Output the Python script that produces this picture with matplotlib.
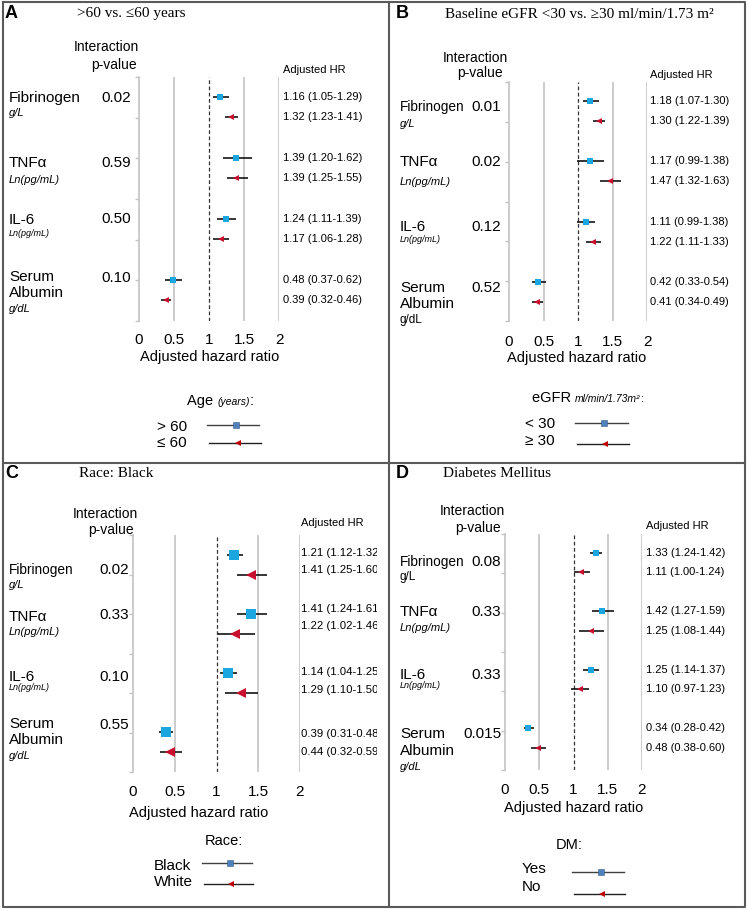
import matplotlib
matplotlib.use("Agg")
import matplotlib.pyplot as plt
from matplotlib import transforms

plt.rcParams['font.family'] = ['Liberation Sans', 'DejaVu Sans']

# ---------------- data ----------------
categories = ["Fibrinogen", "TNFα", "IL-6", "Serum Albumin"]

# Panel A: age
a_title = ">60 vs. ≤60 years"
a_p = ["0.02", "0.59", "0.50", "0.10"]
a_s1_hr = [1.16, 1.39, 1.24, 0.48]
a_s1_lo = [1.05, 1.20, 1.11, 0.37]
a_s1_up = [1.29, 1.62, 1.39, 0.62]
a_s2_hr = [1.32, 1.39, 1.17, 0.39]
a_s2_lo = [1.23, 1.25, 1.06, 0.32]
a_s2_up = [1.41, 1.55, 1.28, 0.46]
a_legend = ["> 60", "≤ 60"]

# Panel B: eGFR
b_title = "Baseline eGFR <30 vs. ≥30 ml/min/1.73 m²"
b_p = ["0.01", "0.02", "0.12", "0.52"]
b_s1_hr = [1.18, 1.17, 1.11, 0.42]
b_s1_lo = [1.07, 0.99, 0.99, 0.33]
b_s1_up = [1.30, 1.38, 1.24, 0.54]
b_s1_up_text = [1.30, 1.38, 1.38, 0.54]
b_s2_hr = [1.30, 1.47, 1.22, 0.41]
b_s2_lo = [1.22, 1.32, 1.11, 0.34]
b_s2_up = [1.39, 1.63, 1.33, 0.49]
b_legend = ["< 30", "≥ 30"]

# Panel C: race
c_title = "Race: Black"
c_p = ["0.02", "0.33", "0.10", "0.55"]
c_s1_hr = [1.21, 1.41, 1.14, 0.39]
c_s1_lo = [1.12, 1.24, 1.04, 0.31]
c_s1_up = [1.32, 1.61, 1.25, 0.48]
c_s2_hr = [1.41, 1.22, 1.29, 0.44]
c_s2_lo = [1.25, 1.02, 1.10, 0.32]
c_s2_up = [1.60, 1.46, 1.50, 0.59]
c_legend = ["Black", "White"]

# Panel D: diabetes
d_title = "Diabetes Mellitus"
d_p = ["0.08", "0.33", "0.33", "0.015"]
d_s1_hr = [1.33, 1.42, 1.25, 0.34]
d_s1_lo = [1.24, 1.27, 1.14, 0.28]
d_s1_up = [1.42, 1.59, 1.37, 0.42]
d_s2_hr = [1.11, 1.25, 1.10, 0.48]
d_s2_lo = [1.00, 1.08, 0.97, 0.38]
d_s2_up = [1.24, 1.44, 1.23, 0.60]
d_legend = ["Yes", "No"]

x_ticks = [0, 0.5, 1, 1.5, 2]
x_ticklabels = ["0", "0.5", "1", "1.5", "2"]

# ---------------- layout ----------------
W, H = 747, 910
fig = plt.figure(figsize=(W / 100, H / 100), dpi=100)
renderer = fig.canvas.get_renderer()

def fx(x):
    return x / W

def fy(y):
    return 1 - y / H

BLUE = "#1CA6E0"
RED = "#C8102E"
LEG_BLUE = "#4F81BD"
LEG_RED = "#C00000"
GRID = "#C4C4C4"

def ftext(x, y, s, size=11, ha="left", va="center", style="normal", weight="normal", family=None, **kw):
    kwargs = dict(fontsize=size, ha=ha, va=va, style=style, weight=weight)
    if family is not None:
        kwargs["family"] = family
    kwargs.update(kw)
    return fig.text(fx(x), fy(y), s, **kwargs)

# panel frame
frame = fig.add_axes([0, 0, 1, 1], zorder=-5)
frame.set_xlim(0, W)
frame.set_ylim(H, 0)
frame.axis("off")
fc = "#5A5A5A"
frame.plot([3, 745, 745, 3, 3], [2, 2, 907, 907, 2], color=fc, lw=1.5)
frame.plot([389, 389], [2, 907], color=fc, lw=1.5)
frame.plot([3, 745], [463, 463], color=fc, lw=1.5)

panels = [
    dict(letter="A", title=a_title, lx=5, tx=77, ty=14, ax=(139, 279, 77, 321), ylim=(11.03, -0.985),
         s1=(a_s1_hr, a_s1_lo, a_s1_up, a_s1_up), s2=(a_s2_hr, a_s2_lo, a_s2_up), p=a_p,
         ms=(5.0, 4.3), hrx=283, hdr=(139, 47, 137, 65, 283, 70),
         names=[("Fibrinogen", 9, 98, 11, "normal"), ("g/L", 9, 113, 8, "italic"),
                ("TNFα", 9, 163, 11, "normal"), ("Ln(pg/mL)", 9, 180, 8, "italic"),
                ("IL-6", 9, 220, 11, "normal"), ("Ln(pg/mL)", 9, 233, 6.5, "italic"),
                ("Serum", 9, 277, 11, "normal"), ("Albumin", 9, 293, 11, "normal"),
                ("g/dL", 9, 309, 8, "italic")],
         px=131, py=[98, 163, 219, 278], tly=340, xly=357, xlx=210,
         leg_title=[("Age ", 10.5, "normal"), ("(years)", 7.5, "italic"), (":", 10.5, "normal")],
         ltx=187, lty=405, leg=a_legend, legx=157, legy=(427, 443),
         l1=(207, 259, 425, 236), l2=(209, 261, 443, 238)),
    dict(letter="B", title=b_title, lx=396, tx=445, ty=14, ax=(509, 647, 82, 321), ylim=(10.94, -0.945),
         s1=(b_s1_hr, b_s1_lo, b_s1_up, b_s1_up_text), s2=(b_s2_hr, b_s2_lo, b_s2_up), p=b_p,
         ms=(5.0, 4.3), hrx=650, hdr=(508, 58, 503, 73, 650, 75),
         names=[("Fibrinogen", 400, 107, 9.8, "normal"), ("g/L", 400, 124, 8, "italic"),
                ("TNFα", 400, 162, 11, "normal"), ("Ln(pg/mL)", 400, 182, 8, "italic"),
                ("IL-6", 400, 227, 11, "normal"), ("Ln(pg/mL)", 400, 239, 6.5, "italic"),
                ("Serum", 400, 288, 11, "normal"), ("Albumin", 400, 304, 11, "normal"),
                ("g/dL", 400, 320, 8.5, "normal")],
         px=501, py=[107, 162, 227, 288], tly=342, xly=358, xlx=577,
         leg_title=[("eGFR ", 10.5, "normal"), ("ml/min/1.73m²", 7.5, "italic"), (":", 7.5, "normal")],
         ltx=532, lty=402, leg=b_legend, legx=525, legy=(424, 441),
         l1=(575, 628, 423, 604), l2=(577, 629, 444, 605)),
    dict(letter="C", title=c_title, lx=5, tx=79, ty=473, ax=(133, 300, 535, 772), ylim=(11.02, -1.015),
         s1=(c_s1_hr, c_s1_lo, c_s1_up, c_s1_up), s2=(c_s2_hr, c_s2_lo, c_s2_up), p=c_p,
         ms=(6.8, 7.5), hrx=301, hdr=(138, 514, 134, 530, 301, 523),
         names=[("Fibrinogen", 9, 570, 9.8, "normal"), ("g/L", 9, 585, 8, "italic"),
                ("TNFα", 9, 617, 11, "normal"), ("Ln(pg/mL)", 9, 632, 8, "italic"),
                ("IL-6", 9, 677, 11, "normal"), ("Ln(pg/mL)", 9, 688, 6.5, "italic"),
                ("Serum", 9, 724, 11, "normal"), ("Albumin", 9, 740, 11, "normal"),
                ("g/dL", 9, 756, 8, "italic")],
         px=129, py=[570, 615, 677, 725], tly=792, xly=813, xlx=199,
         leg_title=[("Race:", 10.5, "normal")],
         ltx=205, lty=845, leg=c_legend, legx=154, legy=(866, 882),
         l1=(202, 252, 863, 230), l2=(204, 253, 884, 231),
         hry=[553, 570, 609, 626, 672, 690, 734, 752]),
    dict(letter="D", title=d_title, lx=396, tx=443, ty=473, ax=(505, 642, 534, 770), ylim=(11.13, -0.97),
         s1=(d_s1_hr, d_s1_lo, d_s1_up, d_s1_up), s2=(d_s2_hr, d_s2_lo, d_s2_up), p=d_p,
         ms=(5.0, 4.3), hrx=646, hdr=(505, 511, 501, 528, 646, 526),
         names=[("Fibrinogen", 400, 562, 9.8, "normal"), ("g/L", 400, 577, 8.5, "normal"),
                ("TNFα", 400, 612, 11, "normal"), ("Ln(pg/mL)", 400, 628, 8, "italic"),
                ("IL-6", 400, 675, 11, "normal"), ("Ln(pg/mL)", 400, 686, 6.5, "italic"),
                ("Serum", 400, 734, 11, "normal"), ("Albumin", 400, 751, 11, "normal"),
                ("g/dL", 400, 767, 8, "italic")],
         px=501, py=[562, 612, 675, 734], tly=790, xly=808, xlx=574,
         leg_title=[("DM:", 10.5, "normal")],
         ltx=556, lty=849, leg=d_legend, legx=522, legy=(869, 887),
         l1=(572, 624, 872, 601), l2=(574, 625, 894, 602)),
]

for P in panels:
    x0, x1, y0, y1 = P["ax"]
    ax = fig.add_axes([fx(x0), fy(y1), (x1 - x0) / W, (y1 - y0) / H])
    ax.set_xlim(0, 2)
    ax.set_ylim(*P["ylim"])
    ax.patch.set_alpha(0)
    for sp in ["top", "right", "bottom"]:
        ax.spines[sp].set_visible(False)
    ax.spines["left"].set_color(GRID)
    ax.spines["left"].set_linewidth(1.2)
    top, bot = P["ylim"][1], P["ylim"][0]
    ax.set_yticks([top + (bot - top) * k / 6 for k in range(7)])
    ax.set_yticklabels([])
    ax.tick_params(axis="y", length=3, color=GRID, width=1)
    ax.set_xticks([])
    for gx in [0.5, 1.5, 2.0]:
        ax.axvline(gx, color=GRID, lw=1.2, zorder=0)
    ax.axvline(1.0, color="#333333", lw=0.9, ls=(0, (3, 2)), zorder=1)

    hr1, lo1, up1, up1t = P["s1"]
    hr2, lo2, up2 = P["s2"]
    n = len(categories)
    y1s = [3 * i for i in range(n)]
    y2s = [3 * i + 1 for i in range(n)]
    err1 = [[h - l for h, l in zip(hr1, lo1)], [u - h for h, u in zip(hr1, up1)]]
    err2 = [[h - l for h, l in zip(hr2, lo2)], [u - h for h, u in zip(hr2, up2)]]
    ax.errorbar(hr1, y1s, xerr=err1, fmt="s", color=BLUE, ecolor="black", elinewidth=1.1,
                capsize=1.8, capthick=1.0, markersize=P["ms"][0], markeredgewidth=0, zorder=3)
    ax.errorbar(hr2, y2s, xerr=err2, fmt="<", color=RED, ecolor="black", elinewidth=1.1,
                capsize=1.8, capthick=1.0, markersize=P["ms"][1], markeredgewidth=0, zorder=3)

    # HR labels
    labels = []
    for i in range(n):
        labels.append(f"{hr1[i]:.2f} ({lo1[i]:.2f}-{up1t[i]:.2f})")
        labels.append(f"{hr2[i]:.2f} ({lo2[i]:.2f}-{up2[i]:.2f})")
    if "hry" in P:
        for lab, yy in zip(labels, P["hry"]):
            t = ftext(P["hrx"], yy, lab, size=8.2)
            t.set_clip_on(True)
            t.set_clip_box(transforms.Bbox([[0, 0], [377, H]]))
    else:
        tr = transforms.blended_transform_factory(fig.transFigure, ax.transData)
        ys = []
        for i in range(n):
            ys += [y1s[i], y2s[i]]
        for lab, yy in zip(labels, ys):
            fig.text(fx(P["hrx"]), yy, lab, fontsize=8, ha="left", va="center", transform=tr)

    # headers
    hx1, hy1, hx2, hy2, ahx, ahy = P["hdr"]
    ftext(hx1, hy1, "Interaction", size=10, ha="right")
    ftext(hx2, hy2, "p-value", size=10, ha="right")
    ftext(ahx, ahy, "Adjusted HR", size=8)

    # category names
    for s, xx, yy, sz, st in P["names"]:
        ftext(xx, yy, s, size=sz, style=st)
    for s, yy in zip(P["p"], P["py"]):
        ftext(P["px"], yy, s, size=11, ha="right")

    # x tick labels and axis label
    for xt, xl in zip(x_ticks, x_ticklabels):
        ftext(x0 + (x1 - x0) * xt / 2, P["tly"], xl, size=11, ha="center")
    ftext(P["xlx"], P["xly"], "Adjusted hazard ratio", size=10.5, ha="center")

    # panel letter and title
    ftext(P["lx"], P["ty"], P["letter"], size=13, weight="bold")
    ftext(P["tx"], P["ty"], P["title"], size=11, family=["Liberation Serif", "DejaVu Serif"])

    # legend title, pieces chained on a common baseline
    cur_x = P["ltx"]
    for s, sz, st in P["leg_title"]:
        t = ftext(cur_x, P["lty"], s, size=sz, style=st, va="baseline")
        bb = t.get_window_extent(renderer)
        cur_x = bb.x1

    ftext(P["legx"], P["legy"][0], P["leg"][0], size=11)
    ftext(P["legx"], P["legy"][1], P["leg"][1], size=11)
    xa, xb, yl, xm = P["l1"]
    frame.plot([xa, xb], [yl, yl], color="#404040", lw=1.0)
    frame.plot([xm], [yl], marker="s", color=LEG_BLUE, markersize=4, markeredgewidth=0.4,
               markeredgecolor="#385D8A")
    xa, xb, yl, xm = P["l2"]
    frame.plot([xa, xb], [yl, yl], color="#202020", lw=1.0)
    frame.plot([xm], [yl], marker="<", color=LEG_RED, markersize=4.5, markeredgewidth=0)

fig.savefig("out.png", dpi=100)
